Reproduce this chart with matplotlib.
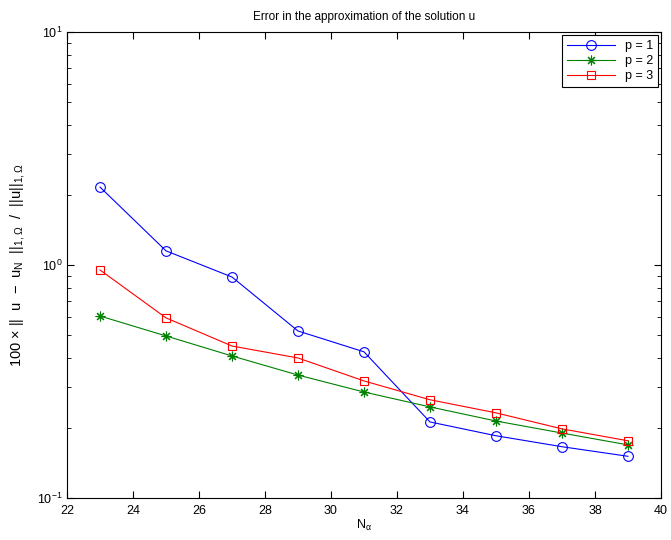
import matplotlib
matplotlib.use("Agg")
import matplotlib.pyplot as plt
import numpy as np

# ── data ─────────────────────────────────────────────────────────────────────
n_alpha = [23, 25, 27, 29, 31, 33, 35, 37, 39]
err_p1 = [2.16, 1.15, 0.888, 0.521, 0.424, 0.212, 0.185, 0.166, 0.151]
err_p2 = [0.604, 0.496, 0.407, 0.337, 0.285, 0.246, 0.214, 0.190, 0.169]
err_p3 = [0.952, 0.593, 0.449, 0.399, 0.318, 0.264, 0.232, 0.198, 0.176]
labels = ["p = 1", "p = 2", "p = 3"]

plt.rcParams["font.family"] = ["Liberation Sans", "DejaVu Sans"]
plt.rcParams["mathtext.default"] = "regular"
plt.rcParams["font.size"] = 9

fig = plt.figure(figsize=(6.71, 5.40), dpi=100)
ax = fig.add_axes([0.0999, 0.0778, 0.8851, 0.8629])

ax.semilogy(n_alpha, err_p1, "-o", color="blue", lw=0.8, ms=7,
            mfc="none", mec="blue", mew=0.8, label=labels[0])
ax.semilogy(n_alpha, err_p2, "-", marker=(8, 2, 0), color="green", lw=0.8,
            ms=7, mec="green", mew=0.8, label=labels[1])
ax.semilogy(n_alpha, err_p3, "-s", color="red", lw=0.8, ms=6,
            mfc="none", mec="red", mew=0.8, label=labels[2])

ax.set_xlim(22, 40)
ax.set_ylim(0.1, 10)
ax.set_xticks(np.arange(22, 41, 2))
ax.tick_params(which="both", direction="in", top=True, right=True,
               labelsize=9)
ax.tick_params(which="major", length=5)
ax.tick_params(which="minor", length=3)
ax.tick_params(axis="x", pad=5)

ax.set_title("Error in the approximation of the solution u", fontsize=8.5, pad=9)
ax.set_xlabel(r"N$_\alpha$", fontsize=9, labelpad=1)
ax.set_ylabel(r"100 $\times$ ||  u  $-$  u$_{N}$  ||$_{1,\Omega}$  /  ||u||$_{1,\Omega}$",
              fontsize=10.5, labelpad=7)

leg = ax.legend(loc="upper right", fontsize=9, fancybox=False,
                edgecolor="black", framealpha=1, borderaxespad=0.25,
                handlelength=3.8, labelspacing=0.25, borderpad=0.4)
leg.get_frame().set_linewidth(0.8)

fig.savefig("out.png", dpi=100)
